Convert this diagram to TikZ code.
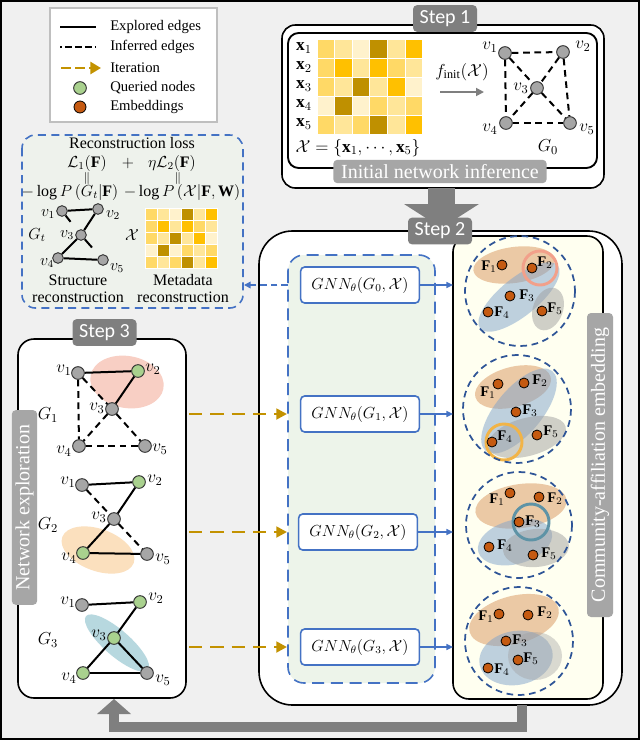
\RequirePackage{fix-cm}
\documentclass[tikz,border=0pt]{standalone}
\usepackage{fontspec}
\setmainfont{Liberation Serif}
\newfontfamily\stepfont{Carlito}
\usepackage{graphicx}
\usetikzlibrary{arrows.meta,calc}
\newcommand\myfs[1]{\fontsize{#1}{#1}\selectfont}
\definecolor{bgc}{HTML}{F0F0F0}
\definecolor{dgray}{HTML}{7F7F7F}
\definecolor{lgray}{HTML}{A6A6A6}
\definecolor{nodegray}{HTML}{A6A6A6}
\definecolor{qgreen}{HTML}{A9D18E}
\definecolor{embor}{HTML}{C55A11}
\definecolor{goldc}{HTML}{C39200}
\definecolor{bblue}{HTML}{4472C4}
\definecolor{dblue}{HTML}{2F5597}
\definecolor{m1}{HTML}{FFF2CC}
\definecolor{m2}{HTML}{FFE699}
\definecolor{m3}{HTML}{FFD966}
\definecolor{m4}{HTML}{FFC000}
\definecolor{m5}{HTML}{BF9000}
\definecolor{reconfill}{HTML}{EEF2EC}
\definecolor{gnnfill}{HTML}{EDF4EA}
\definecolor{cream}{HTML}{FFFFF0}
\definecolor{ellor}{HTML}{D9955B}
\definecolor{ellbl}{HTML}{7FA3CC}
\definecolor{ellgr}{HTML}{A0A0A0}
\definecolor{ringsal}{HTML}{F2A08A}
\definecolor{ringgold}{HTML}{F2B447}
\definecolor{ringteal}{HTML}{5E93A6}
\definecolor{pinkell}{HTML}{F8CFC4}
\definecolor{orell}{HTML}{FBE0BE}
\definecolor{tealell}{HTML}{B7D8DF}
\tikzset{
 gv/.style={circle, draw=black!80, line width=0.7pt, fill=nodegray, minimum size=9.5pt, inner sep=0pt},
 gq/.style={gv, fill=qgreen},
 gs/.style={gv, minimum size=8pt},
 emb/.style={circle, draw=black, line width=0.6pt, fill=embor, minimum size=7.5pt, inner sep=0pt},
 exe/.style={line width=1.5pt},
 ine/.style={line width=1.5pt, dash pattern=on 5pt off 3.5pt},
 vl/.style={inner sep=0pt, font=\myfs{13}},
 fl/.style={inner sep=0pt, font=\myfs{11}},
 tl/.style={inner sep=0pt, font=\myfs{12}},
 lg/.style={inner sep=0pt, anchor=west, font=\myfs{11}},
 steplbl/.style={fill=dgray, text=white, rounded corners=3pt, minimum width=48pt, minimum height=20pt, inner sep=0pt, font=\stepfont\myfs{15}},
 graylbl/.style={fill=lgray, text=white, rounded corners=3pt, inner sep=0pt},
 gnnbox/.style={draw=bblue, fill=white, line width=1.2pt, rounded corners=3pt, minimum width=89pt, minimum height=27pt, inner sep=0pt, font=\myfs{12}},
 iter/.style={goldc, line width=2.2pt, dash pattern=on 10pt off 6pt, -{Triangle[length=8pt,width=8pt]}},
 barr/.style={bblue, line width=1.1pt, -{Triangle[length=5pt,width=4.5pt]}},
 clus/.style={dblue, line width=1.3pt, dash pattern=on 5pt off 3.5pt},
 ring/.style={line width=2.2pt},
}
\begin{document}
\begin{tikzpicture}[x=0.75pt,y=-0.75pt]
\useasboundingbox (0,0) rectangle (640,740);
\fill[bgc] (0,0) rectangle (640,740);
\draw[line width=2pt] (1,1) rectangle (639,739);

% ---------------- legend
\draw[draw=black!25, line width=1.5pt, fill=white] (50,8) rectangle (217,122);
\coordinate (le1a) at (60,27); \coordinate (le1b) at (96,27);
\draw[exe] (le1a) -- (le1b);
\node[lg] (lt1) at (110,27) {Explored edges};
\coordinate (le2a) at (60,47); \coordinate (le2b) at (96,47);
\draw[line width=1.5pt, dash pattern=on 1.2pt off 2.5pt on 5pt off 2.5pt on 5pt off 2.5pt on 5pt off 2.5pt] (le2a) -- (le2b);
\node[lg] (lt2) at (110,47) {Inferred edges};
\coordinate (le3a) at (61,68); \coordinate (le3b) at (101,68);
\draw[goldc, line width=2.2pt, dash pattern=on 7.5pt off 3pt, -{Triangle[length=8pt,width=9pt]}] (le3a) -- (le3b);
\node[lg] (lt3) at (110,68) {Iteration};
\node[gq] (lq) at (80,88) {};
\node[lg] (lt4) at (110,88) {Queried nodes};
\node[emb, minimum size=9pt] (le) at (80,107) {};
\node[lg] (lt5) at (110,107) {Embeddings};

% ---------------- step 1
\draw[fill=white, line width=1.2pt, rounded corners=10pt] (282,25) rectangle (604,188);
\draw[line width=1.4pt, rounded corners=8pt] (288,33) rectangle (597,168);
\foreach \row [count=\r] in {{3,2,1,5,2,4},{3,4,2,4,3,2},{3,2,5,2,4,1},{1,5,1,3,2,3},{3,2,3,5,2,4}} {
  \foreach \c [count=\i] in \row {
    \fill[fill=m\c, draw=white, line width=0.6pt] ({317+(\i-1)*17.6},{39+(\r-1)*19}) rectangle ++(17.6,19);
  }
}
\foreach \r in {1,...,5} {
  \node[vl] (xl\r) at (304,{29+\r*19}) {$\mathbf{x}_{\r}$};
}
\node[vl] (xset) at (358,148) {$\mathcal{X}=\{\mathbf{x}_1,\cdots,\mathbf{x}_5\}$};
\node[vl] (finit) at (462,72) {$f_{\mathrm{init}}(\mathcal{X})$};
\coordinate (fa) at (440,92); \coordinate (fb) at (484,92);
\draw[dgray, line width=1.3pt, -{Triangle[length=6pt,width=6pt]}] (fa) -- (fb);
\node[gv] (s1a) at (505,53) {};
\node[gv] (s1b) at (563,52) {};
\node[gv] (s1c) at (537,88) {};
\node[gv] (s1d) at (506,123) {};
\node[gv] (s1e) at (570,123) {};
\draw[ine] (s1a) -- (s1b);
\draw[ine] (s1a) -- (s1c);
\draw[ine] (s1b) -- (s1c);
\draw[ine] (s1a) -- (s1d);
\draw[ine] (s1b) -- (s1e);
\draw[ine] (s1c) -- (s1d);
\draw[ine] (s1c) -- (s1e);
\draw[ine] (s1d) -- (s1e);
\node[vl] (s1la) at (490,47) {$v_1$};
\node[vl] (s1lb) at (583,46) {$v_2$};
\node[vl] (s1lc) at (521,88) {$v_3$};
\node[vl] (s1ld) at (490,129) {$v_4$};
\node[vl] (s1le) at (587,129) {$v_5$};
\node[vl] (g0) at (548,147) {$G_0$};
\node[graylbl, minimum width=160pt, minimum height=17.5pt, font=\myfs{15}] (inilbl) at (440,171.5) {Initial network inference};
\node[steplbl] (step1) at (445,18.5) {Step 1};

% ---------------- arrow step1 -> step2
\fill[dgray] (428,188) rectangle (455,205);
\fill[dgray] (404,204) -- (479,204) -- (441.5,228) -- cycle;

% ---------------- step 2
\draw[fill=white, line width=1.2pt, rounded corners=25pt] (259,231) rectangle (622,705);
\draw[fill=cream, line width=1.2pt, rounded corners=12pt] (453,236) rectangle (603,699);
\draw[fill=gnnfill, draw=bblue, line width=1.2pt, dash pattern=on 9pt off 5pt, rounded corners=12pt] (288,255) rectangle (435,683);
\node[gnnbox] (gnn0) at (360,285) {$GNN_\theta(G_0,\mathcal{X})$};
\node[gnnbox] (gnn1) at (360,414) {$GNN_\theta(G_1,\mathcal{X})$};
\node[gnnbox] (gnn2) at (358,532) {$GNN_\theta(G_2,\mathcal{X})$};
\node[gnnbox] (gnn3) at (360,647) {$GNN_\theta(G_3,\mathcal{X})$};
\coordinate (pw) at (453,0);
\draw[barr] (gnn0.east) -- (gnn0.east -| pw);
\draw[barr] (gnn1.east) -- (gnn1.east -| pw);
\draw[barr] (gnn2.east) -- (gnn2.east -| pw);
\draw[barr] (gnn3.east) -- (gnn3.east -| pw);

% cluster 0
\fill[ellor, fill opacity=0.5, rotate around={8:(514,265)}] (514,265) ellipse [x radius=41, y radius=18];
\fill[ellbl, fill opacity=0.5, rotate around={39:(519,297)}] (519,297) ellipse [x radius=50, y radius=19];
\fill[ellgr, fill opacity=0.5, rotate around={-20:(548,309)}] (548,309) ellipse [x radius=15, y radius=22];
\draw[ringsal, ring] (540,268) circle [radius=17];
\draw[clus] (520,291) circle [radius=55];
\node[emb] (c0a) at (502,265) {}; \node[fl] (c0la) at (489,267) {$\mathbf{F}_1$};
\node[emb] (c0b) at (532,268) {}; \node[fl] (c0lb) at (545,263) {$\mathbf{F}_2$};
\node[emb] (c0c) at (510,296) {}; \node[fl] (c0lc) at (527,296) {$\mathbf{F}_3$};
\node[emb] (c0d) at (488,312) {}; \node[fl] (c0ld) at (502,313) {$\mathbf{F}_4$};
\node[emb] (c0e) at (542,311) {}; \node[fl] (c0le) at (555,309) {$\mathbf{F}_5$};

% cluster 1
\fill[ellor, fill opacity=0.5, rotate around={15:(513,387)}] (513,387) ellipse [x radius=39, y radius=20];
\fill[ellbl, fill opacity=0.5, rotate around={50:(519,411)}] (519,411) ellipse [x radius=52, y radius=23];
\fill[ellgr, fill opacity=0.5, rotate around={15:(527,437)}] (527,437) ellipse [x radius=40, y radius=19];
\draw[ringgold, ring] (504,442) circle [radius=18];
\draw[clus] (517,409) circle [radius=54];
\node[emb] (c1a) at (498,384) {}; \node[fl] (c1la) at (488,393) {$\mathbf{F}_1$};
\node[emb] (c1b) at (524,383) {}; \node[fl] (c1lb) at (540,381) {$\mathbf{F}_2$};
\node[emb] (c1c) at (516,412) {}; \node[fl] (c1lc) at (530,411) {$\mathbf{F}_3$};
\node[emb] (c1d) at (492,442) {}; \node[fl] (c1ld) at (505,437) {$\mathbf{F}_4$};
\node[emb] (c1e) at (537,435) {}; \node[fl] (c1le) at (551,432) {$\mathbf{F}_5$};

% cluster 2
\fill[ellor, fill opacity=0.5, rotate around={8:(521,506)}] (521,506) ellipse [x radius=46, y radius=22];
\fill[ellbl, fill opacity=0.5, rotate around={15:(515,542)}] (515,542) ellipse [x radius=38, y radius=22];
\fill[ellgr, fill opacity=0.5, rotate around={5:(536,548)}] (536,548) ellipse [x radius=33, y radius=19];
\draw[ringteal, ring] (531,522) circle [radius=18];
\draw[clus] (519,525) circle [radius=53];
\node[emb] (c2a) at (510,493) {}; \node[fl] (c2la) at (497,500) {$\mathbf{F}_1$};
\node[emb] (c2b) at (539,497) {}; \node[fl] (c2lb) at (555,499) {$\mathbf{F}_2$};
\node[emb] (c2c) at (519,522) {}; \node[fl] (c2lc) at (533,522) {$\mathbf{F}_3$};
\node[emb] (c2d) at (489,547) {}; \node[fl] (c2ld) at (505,546) {$\mathbf{F}_4$};
\node[emb] (c2e) at (533,555) {}; \node[fl] (c2le) at (549,554) {$\mathbf{F}_5$};

% cluster 3
\fill[ellor, fill opacity=0.5, rotate around={15:(514,620)}] (514,620) ellipse [x radius=46, y radius=24];
\fill[ellbl, fill opacity=0.5, rotate around={10:(516,658)}] (516,658) ellipse [x radius=37, y radius=27];
\fill[ellgr, fill opacity=0.4] (535,656) ellipse [x radius=27, y radius=24];
\draw[clus] (519,641) circle [radius=54];
\node[emb] (c3a) at (499,614) {}; \node[fl] (c3la) at (486,617) {$\mathbf{F}_1$};
\node[emb] (c3b) at (528,615) {}; \node[fl] (c3lb) at (545,613) {$\mathbf{F}_2$};
\node[emb] (c3c) at (506,641) {}; \node[fl] (c3lc) at (520,641) {$\mathbf{F}_3$};
\node[emb] (c3d) at (488,668) {}; \node[fl] (c3ld) at (502,670) {$\mathbf{F}_4$};
\node[emb] (c3e) at (518,660) {}; \node[fl] (c3le) at (531,659) {$\mathbf{F}_5$};

\node[graylbl, rotate=90, minimum width=228pt, minimum height=19.5pt, font=\myfs{15}] (comlbl) at (600,465) {Community-affiliation embedding};
\node[steplbl] (step2) at (440,231) {Step 2};

% ---------------- reconstruction box
\draw[fill=reconfill, draw=bblue, line width=1.2pt, dash pattern=on 6pt off 4pt, rounded corners=10pt] (22,135) rectangle (243,308);
\node[tl] (rtitle) at (132,143) {Reconstruction loss};
\node[tl] (rL1) at (87,163) {$\mathcal{L}_1(\mathbf{F})$};
\node[tl] (rplus) at (128,163) {$+$};
\node[tl] (rL2) at (172,163) {$\eta\mathcal{L}_2(\mathbf{F})$};
\node[inner sep=0pt, font=\myfs{9}] (req1) at (87,178) {$\|$};
\node[inner sep=0pt, font=\myfs{9}] (req2) at (178,178) {$\|$};
\node[tl] (rlp1) at (70,192) {$-\log P\left(G_t|\mathbf{F}\right)$};
\node[tl] (rlp2) at (182,192) {$-\log P\left(\mathcal{X}|\mathbf{F},\mathbf{W}\right)$};
\node[gs] (rta) at (62,211) {};
\node[gs] (rtb) at (98,209) {};
\node[gs] (rtc) at (81,235) {};
\node[gs] (rtd) at (58,258) {};
\node[gs] (rte) at (103,260) {};
\draw[exe] (rta) -- (rtb);
\draw[exe] (rtb) -- (rtc);
\draw[exe] (rtc) -- (rtd);
\draw[exe] (rtd) -- (rte);
\draw[exe] (rta) -- ($(rta)!0.45!(rtc)$);
\draw[exe] (rtc) -- ($(rtc)!0.5!(rte)$);
\node[tl] (rtla) at (48,214) {$v_1$};
\node[tl] (rtlb) at (113,215) {$v_2$};
\node[tl] (rtlc) at (67,235) {$v_3$};
\node[tl] (rtld) at (47,263) {$v_4$};
\node[tl] (rtle) at (117,268) {$v_5$};
\node[tl] (rtg) at (37,235) {$G_t$};
\node[tl] (rtx) at (132,235) {$\mathcal{X}$};
\foreach \row [count=\r] in {{3,2,1,5,2,4},{3,4,2,4,3,2},{3,2,5,2,4,1},{1,5,1,3,2,3},{3,2,3,5,2,4}} {
  \foreach \c [count=\i] in \row {
    \fill[fill=m\c, draw=white, line width=0.5pt] ({145+(\i-1)*12},{208+(\r-1)*12}) rectangle ++(12,12);
  }
}
\node[tl] (rs1) at (78,280) {Structure};
\node[tl] (rs2) at (78,297) {reconstruction};
\node[tl] (rm1) at (183,280) {Metadata};
\node[tl] (rm2) at (183,297) {reconstruction};
\coordinate (gnnW) at (288,285); \coordinate (reconE) at (244,285);
\draw[bblue, line width=1.1pt, dash pattern=on 5pt off 3pt, -{Triangle[length=5pt,width=5pt]}] (gnnW) -- (reconE);

% ---------------- step 3
\draw[fill=white, line width=1.2pt, rounded corners=12pt] (18,339) rectangle (186,698);
% G1
\fill[pinkell, rotate around={-10:(127,382)}] (127,382) ellipse [x radius=37, y radius=26];
\node[gv] (ga) at (78,373) {};
\node[gq] (gb) at (138,371) {};
\node[gv] (gc) at (112,409) {};
\node[gv] (gd) at (79,446) {};
\node[gv] (ge) at (145,446) {};
\draw[exe] (ga) -- (gb);
\draw[exe] (gb) -- (gc);
\draw[ine] (ga) -- (gc);
\draw[ine] (ga) -- (gd);
\draw[ine] (gc) -- (gd);
\draw[ine] (gc) -- (ge);
\draw[ine] (gd) -- (ge);
\node[vl] (gla) at (64,370) {$v_1$};
\node[vl] (glb) at (153,369) {$v_2$};
\node[vl] (glc) at (97,408) {$v_3$};
\node[vl] (gld) at (64,451) {$v_4$};
\node[vl] (gle) at (160,449) {$v_5$};
\node[vl] (g1) at (48,415) {$G_1$};
% G2
\fill[orell, rotate around={-20:(98,550)}] (98,550) ellipse [x radius=38, y radius=21];
\node[gv] (ha) at (82,485) {};
\node[gq] (hb) at (139,482) {};
\node[gv] (hc) at (114,519) {};
\node[gq] (hd) at (83,553) {};
\node[gv] (he) at (147,554) {};
\draw[exe] (ha) -- (hb);
\draw[exe] (hb) -- (hc);
\draw[ine] (ha) -- (hc);
\draw[exe] (hc) -- (hd);
\draw[exe] (hd) -- (he);
\draw[ine] (hc) -- (he);
\node[vl] (hla) at (68,482) {$v_1$};
\node[vl] (hlb) at (155,480) {$v_2$};
\node[vl] (hlc) at (99,517) {$v_3$};
\node[vl] (hld) at (69,558) {$v_4$};
\node[vl] (hle) at (163,559) {$v_5$};
\node[vl] (g2) at (48,525) {$G_2$};
% G3
\fill[tealell, rotate around={-41:(117,643)}] (117,643) ellipse [x radius=41, y radius=13];
\node[gv] (ka) at (82,605) {};
\node[gq] (kb) at (140,602) {};
\node[gq] (kc) at (114,638) {};
\node[gq] (kd) at (83,673) {};
\node[gv] (ke) at (147,673) {};
\draw[exe] (ka) -- (kb);
\draw[exe] (kb) -- (kc);
\draw[exe] (kc) -- (kd);
\draw[exe] (kc) -- (ke);
\draw[exe] (kd) -- (ke);
\node[vl] (kla) at (68,602) {$v_1$};
\node[vl] (klb) at (156,598) {$v_2$};
\node[vl] (klc) at (99,635) {$v_3$};
\node[vl] (kld) at (69,678) {$v_4$};
\node[vl] (kle) at (163,680) {$v_5$};
\node[vl] (g3) at (48,640) {$G_3$};
\node[graylbl, rotate=90, minimum width=146pt, minimum height=19pt, font=\myfs{15}] (netlbl) at (24.5,507.5) {Network exploration};
\node[steplbl] (step3) at (104.5,332.5) {Step 3};

% ---------------- iteration arrows
\coordinate (i1a) at (189,414); \coordinate (i1b) at (287,414);
\coordinate (i2a) at (189,532); \coordinate (i2b) at (287,532);
\coordinate (i3a) at (189,647); \coordinate (i3b) at (287,647);
\draw[iter] (i1a) -- (i1b);
\draw[iter] (i2a) -- (i2b);
\draw[iter] (i3a) -- (i3b);

% ---------------- feedback arrow
\coordinate (fb1) at (522,705); \coordinate (fb2) at (522,727);
\coordinate (fb3) at (114,727); \coordinate (fb4) at (114,712);
\draw[dgray, line width=7.5pt] (fb1) -- (fb2) -- (fb3) -- (fb4);
\fill[dgray] (97,714) -- (131,714) -- (114,699) -- cycle;
\end{tikzpicture}
\end{document}
